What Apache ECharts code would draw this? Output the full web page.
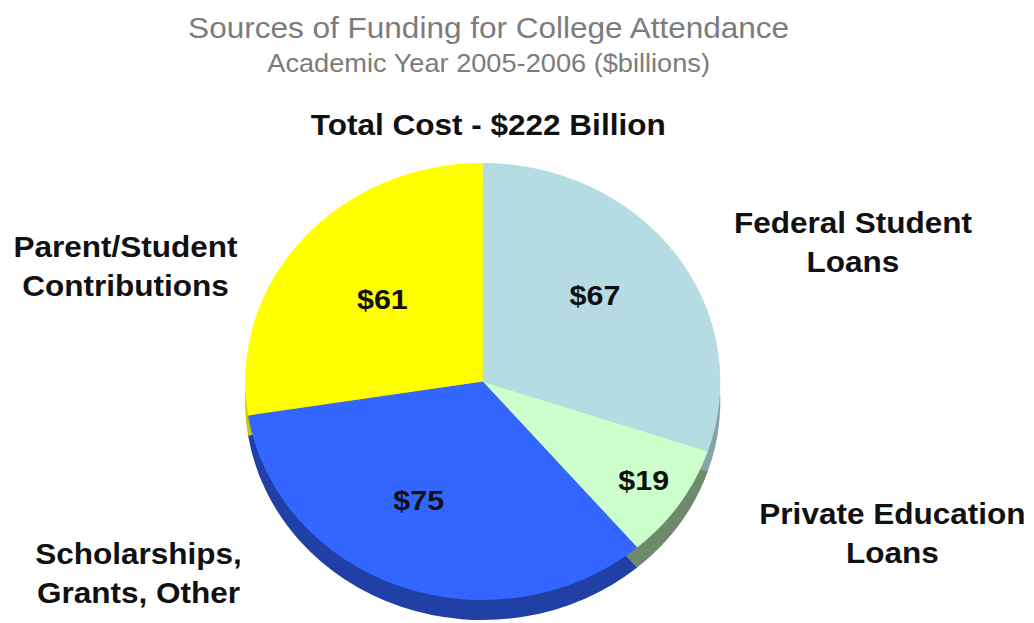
<!DOCTYPE html>
<html>
<head>
<meta charset="utf-8">
<script src="https://cdn.jsdelivr.net/npm/echarts@6/dist/echarts.min.js"></script>
<style>
  html, body { margin: 0; padding: 0; background: #ffffff; overflow: hidden; }
  #wrap { position: relative; width: 1034px; height: 623px; overflow: hidden; background: #ffffff; }
  /* the chart is laid out on a narrower canvas and widened, giving the slightly flattened pie */
  #chart { position: absolute; left: 0; top: 0; width: 951px; height: 623px;
           transform-origin: 0 0; transform: scaleX(1.0873); }
</style>
</head>
<body>
<div id="wrap"><div id="chart"></div></div>
<script>
// Funding sources, clockwise from the top ($ billions)
const categories = [
  'Federal Student\nLoans',
  'Private Education\nLoans',
  'Scholarships,\nGrants, Other',
  'Parent/Student\nContributions'
];
const values = [67, 19, 75, 61];

const titleText = 'Sources of Funding for College Attendance';
const subtitleText = 'Academic Year 2005-2006 ($billions)';

// Styling
const topColors  = ['#b4dce2', '#ccffcc', '#3366ff', '#ffff00'];
const sideColors = ['#86a3a8', '#6d8a6a', '#2140a6', '#c8c800'];

// Geometry of the pie (chart pixels)
const pieCenter = [444, 381.5];
const pieRadius = 218.5;
const depth = 20;

// Where each category name sits, and nudges for the value labels
const namePos = [[784.5, 242], [820.8, 533], [127.4, 573], [115.4, 266]];
const valueShift = [[12, -21], [55, 36], [-20, 14], [-7, -9]];

const total = values.reduce((a, b) => a + b, 0);

const chart = echarts.init(document.getElementById('chart'), null, { renderer: 'svg' });

const font = 'Arial, "Liberation Sans", Helvetica, sans-serif';

chart.setOption({
  animation: false,
  backgroundColor: '#ffffff',
  graphic: [
    { type: 'text', x: 449.4, y: 28, silent: true,
      style: { text: titleText, fill: '#7c7c7c', font: '29px ' + font,
               textAlign: 'center', textVerticalAlign: 'middle' } },
    { type: 'text', x: 449.4, y: 63, silent: true,
      style: { text: subtitleText, fill: '#7c7c7c', font: '25px ' + font,
               textAlign: 'center', textVerticalAlign: 'middle' } },
    { type: 'text', x: 449, y: 125, silent: true,
      style: { text: 'Total Cost - $' + total + ' Billion', fill: '#111111',
               font: 'bold 29px ' + font, textAlign: 'center', textVerticalAlign: 'middle' } }
  ],
  series: [
    {
      // side wall of the pie, drawn behind the top face
      type: 'pie',
      silent: true,
      z: 1,
      center: [pieCenter[0], pieCenter[1] + depth],
      radius: pieRadius,
      startAngle: 90,
      clockwise: true,
      avoidLabelOverlap: false,
      data: categories.map((name, i) => ({
        name: name, value: values[i], itemStyle: { color: sideColors[i] }
      })),
      itemStyle: { borderWidth: 0 },
      label: {
        show: true, position: 'outside', formatter: '{b}',
        color: '#111111', fontFamily: font, fontWeight: 'bold', fontSize: 29,
        lineHeight: 39, align: 'center'
      },
      labelLine: { show: false },
      labelLayout: function (p) {
        return { x: namePos[p.dataIndex][0], y: namePos[p.dataIndex][1],
                 align: 'center', verticalAlign: 'middle', hideOverlap: false };
      },
      emphasis: { disabled: true }
    },
    {
      // top face with the dollar amounts
      type: 'pie',
      silent: true,
      z: 2,
      center: pieCenter,
      radius: pieRadius,
      startAngle: 90,
      clockwise: true,
      avoidLabelOverlap: false,
      data: categories.map((name, i) => ({
        name: name, value: values[i], itemStyle: { color: topColors[i] }
      })),
      itemStyle: { borderWidth: 0 },
      label: {
        show: true, position: 'inside', formatter: '${c}',
        color: '#111111', fontFamily: font, fontWeight: 'bold', fontSize: 28
      },
      labelLine: { show: false },
      labelLayout: function (p) {
        return { dx: valueShift[p.dataIndex][0], dy: valueShift[p.dataIndex][1], hideOverlap: false };
      },
      emphasis: { disabled: true }
    }
  ]
});
</script>
</body>
</html>
